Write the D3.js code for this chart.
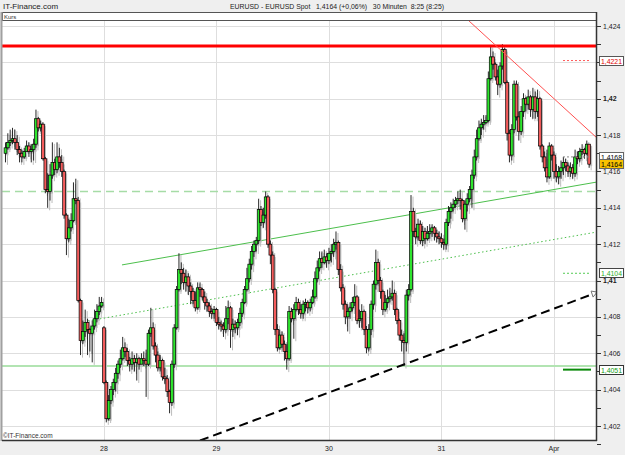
<!DOCTYPE html>
<html><head><meta charset="utf-8">
<script src="https://cdn.jsdelivr.net/npm/d3@7"></script>
<style>
html,body{margin:0;padding:0;background:#efefef;}
svg{display:block;font-family:"Liberation Sans",Arial,sans-serif;}
</style></head><body>
<svg id="chart" width="625" height="455"></svg>
<script>
// ---- data (30-minute candles, EUR/USD) ----
const open=[1.4170,1.4173,1.4176,1.4177,1.4178,1.4176,1.4172,1.4170,1.4168,1.4171,
1.4174,1.4171,1.4172,1.4175,1.4189,1.4184,1.4186,1.4167,1.4150,1.4149,
1.4158,1.4165,1.4161,1.4168,1.4165,1.4160,1.4136,1.4123,1.4129,1.4133,
1.4145,1.4144,1.4089,1.4067,1.4072,1.4077,1.4073,1.4071,1.4075,1.4079,
1.4083,1.4086,1.4074,1.4044,1.4024,1.4034,1.4040,1.4044,1.4049,1.4054,
1.4057,1.4063,1.4061,1.4056,1.4054,1.4057,1.4055,1.4057,1.4054,1.4057,
1.4056,1.4054,1.4071,1.4074,1.4064,1.4059,1.4052,1.4056,1.4047,1.4046,
1.4039,1.4033,1.4054,1.4074,1.4095,1.4106,1.4104,1.4099,1.4102,1.4097,
1.4094,1.4089,1.4085,1.4096,1.4095,1.4091,1.4088,1.4086,1.4083,1.4082,
1.4084,1.4077,1.4076,1.4075,1.4073,1.4079,1.4085,1.4073,1.4076,1.4074,
1.4077,1.4082,1.4088,1.4095,1.4101,1.4109,1.4116,1.4120,1.4122,1.4139,
1.4132,1.4136,1.4146,1.4120,1.4114,1.4095,1.4073,1.4063,1.4070,1.4065,
1.4061,1.4057,1.4083,1.4079,1.4084,1.4088,1.4084,1.4082,1.4087,1.4088,
1.4085,1.4088,1.4091,1.4101,1.4107,1.4112,1.4110,1.4113,1.4111,1.4115,
1.4116,1.4120,1.4121,1.4106,1.4096,1.4087,1.4080,1.4083,1.4085,1.4088,
1.4091,1.4078,1.4079,1.4083,1.4073,1.4063,1.4073,1.4087,1.4098,1.4110,
1.4100,1.4094,1.4084,1.4088,1.4090,1.4091,1.4093,1.4084,1.4078,1.4070,
1.4067,1.4066,1.4092,1.4095,1.4138,1.4127,1.4124,1.4131,1.4122,1.4127,
1.4123,1.4126,1.4127,1.4129,1.4126,1.4124,1.4123,1.4121,1.4120,1.4132,
1.4138,1.4140,1.4142,1.4144,1.4145,1.4144,1.4134,1.4142,1.4145,1.4150,
1.4158,1.4168,1.4178,1.4184,1.4186,1.4187,1.4188,1.4211,1.4223,1.4219,
1.4212,1.4208,1.4218,1.4227,1.4209,1.4181,1.4169,1.4183,1.4208,1.4190,
1.4182,1.4193,1.4200,1.4197,1.4201,1.4194,1.4201,1.4193,1.4200,1.4174,
1.4168,1.4162,1.4157,1.4174,1.4169,1.4160,1.4157,1.4160,1.4162,1.4165,
1.4163,1.4160,1.4162,1.4159,1.4168,1.4167,1.4171,1.4172,1.4170,1.4175];
const high=[1.4176,1.4181,1.4183,1.4184,1.4183,1.4180,1.4174,1.4172,1.4173,1.4177,
1.4176,1.4175,1.4178,1.4194,1.4190,1.4188,1.4187,1.4168,1.4159,1.4164,
1.4176,1.4167,1.4176,1.4173,1.4169,1.4161,1.4137,1.4134,1.4137,1.4154,
1.4156,1.4146,1.4090,1.4078,1.4084,1.4079,1.4074,1.4078,1.4084,1.4087,
1.4091,1.4091,1.4075,1.4045,1.4037,1.4042,1.4046,1.4052,1.4056,1.4062,
1.4069,1.4066,1.4063,1.4058,1.4061,1.4059,1.4060,1.4058,1.4060,1.4061,
1.4062,1.4073,1.4085,1.4077,1.4066,1.4061,1.4059,1.4057,1.4052,1.4048,
1.4040,1.4056,1.4076,1.4097,1.4115,1.4110,1.4107,1.4106,1.4104,1.4099,
1.4096,1.4094,1.4099,1.4099,1.4096,1.4094,1.4090,1.4088,1.4085,1.4086,
1.4085,1.4080,1.4078,1.4077,1.4086,1.4089,1.4086,1.4079,1.4078,1.4079,
1.4085,1.4090,1.4097,1.4107,1.4112,1.4119,1.4122,1.4124,1.4145,1.4141,
1.4140,1.4149,1.4147,1.4122,1.4116,1.4096,1.4076,1.4073,1.4072,1.4067,
1.4065,1.4086,1.4085,1.4087,1.4091,1.4090,1.4087,1.4089,1.4090,1.4089,
1.4090,1.4095,1.4105,1.4111,1.4116,1.4116,1.4117,1.4115,1.4118,1.4120,
1.4123,1.4127,1.4122,1.4109,1.4098,1.4089,1.4087,1.4088,1.4091,1.4098,
1.4092,1.4084,1.4087,1.4084,1.4075,1.4076,1.4089,1.4100,1.4117,1.4112,
1.4102,1.4095,1.4092,1.4095,1.4096,1.4100,1.4095,1.4085,1.4079,1.4073,
1.4071,1.4095,1.4098,1.4147,1.4140,1.4129,1.4134,1.4133,1.4130,1.4129,
1.4130,1.4131,1.4131,1.4130,1.4128,1.4127,1.4126,1.4123,1.4134,1.4141,
1.4143,1.4145,1.4146,1.4149,1.4150,1.4145,1.4144,1.4148,1.4152,1.4161,
1.4172,1.4183,1.4188,1.4189,1.4191,1.4191,1.4215,1.4229,1.4226,1.4220,
1.4216,1.4220,1.4230,1.4228,1.4210,1.4183,1.4186,1.4210,1.4210,1.4193,
1.4196,1.4203,1.4201,1.4205,1.4202,1.4206,1.4204,1.4205,1.4201,1.4175,
1.4171,1.4172,1.4176,1.4175,1.4171,1.4164,1.4163,1.4166,1.4168,1.4167,
1.4165,1.4165,1.4164,1.4172,1.4171,1.4173,1.4175,1.4173,1.4177,1.4175];
const low=[1.4165,1.4172,1.4174,1.4175,1.4172,1.4169,1.4165,1.4165,1.4167,1.4171,
1.4168,1.4165,1.4166,1.4173,1.4182,1.4182,1.4166,1.4148,1.4140,1.4144,
1.4156,1.4158,1.4159,1.4162,1.4157,1.4134,1.4114,1.4121,1.4127,1.4132,
1.4142,1.4088,1.4059,1.4065,1.4069,1.4059,1.4061,1.4055,1.4073,1.4077,
1.4081,1.4085,1.4043,1.4022,1.4023,1.4032,1.4037,1.4039,1.4046,1.4052,
1.4056,1.4058,1.4053,1.4050,1.4051,1.4050,1.4045,1.4051,1.4054,1.4053,
1.4036,1.4053,1.4069,1.4062,1.4055,1.4050,1.4050,1.4045,1.4043,1.4036,
1.4027,1.4031,1.4052,1.4073,1.4094,1.4098,1.4095,1.4094,1.4092,1.4087,
1.4087,1.4083,1.4084,1.4091,1.4089,1.4084,1.4083,1.4080,1.4079,1.4079,
1.4075,1.4073,1.4072,1.4069,1.4071,1.4076,1.4063,1.4069,1.4071,1.4070,
1.4075,1.4080,1.4087,1.4094,1.4099,1.4106,1.4113,1.4116,1.4120,1.4130,
1.4129,1.4134,1.4118,1.4109,1.4093,1.4070,1.4061,1.4062,1.4063,1.4056,
1.4051,1.4056,1.4077,1.4068,1.4083,1.4081,1.4079,1.4079,1.4083,1.4082,
1.4083,1.4087,1.4090,1.4099,1.4105,1.4107,1.4109,1.4107,1.4109,1.4110,
1.4113,1.4117,1.4103,1.4094,1.4084,1.4076,1.4072,1.4079,1.4083,1.4086,
1.4076,1.4074,1.4074,1.4070,1.4060,1.4061,1.4070,1.4084,1.4095,1.4098,
1.4090,1.4081,1.4083,1.4085,1.4088,1.4089,1.4081,1.4076,1.4067,1.4061,
1.4053,1.4061,1.4089,1.4094,1.4124,1.4120,1.4122,1.4120,1.4119,1.4120,
1.4122,1.4123,1.4124,1.4122,1.4121,1.4120,1.4118,1.4117,1.4117,1.4130,
1.4134,1.4138,1.4140,1.4142,1.4139,1.4132,1.4128,1.4138,1.4143,1.4140,
1.4156,1.4166,1.4177,1.4180,1.4183,1.4186,1.4187,1.4210,1.4216,1.4210,
1.4202,1.4206,1.4216,1.4208,1.4177,1.4165,1.4166,1.4181,1.4188,1.4177,
1.4180,1.4190,1.4193,1.4194,1.4190,1.4189,1.4189,1.4190,1.4172,1.4165,
1.4160,1.4154,1.4156,1.4166,1.4156,1.4154,1.4153,1.4156,1.4158,1.4160,
1.4157,1.4157,1.4156,1.4157,1.4164,1.4165,1.4169,1.4167,1.4169,1.4162];
const close=[1.4173,1.4176,1.4177,1.4178,1.4176,1.4172,1.4170,1.4168,1.4171,1.4174,
1.4171,1.4172,1.4175,1.4189,1.4184,1.4186,1.4167,1.4150,1.4149,1.4158,
1.4165,1.4161,1.4168,1.4165,1.4160,1.4136,1.4123,1.4129,1.4133,1.4145,
1.4144,1.4089,1.4067,1.4072,1.4077,1.4073,1.4071,1.4075,1.4079,1.4083,
1.4086,1.4088,1.4044,1.4024,1.4034,1.4040,1.4044,1.4049,1.4054,1.4057,
1.4063,1.4061,1.4056,1.4054,1.4057,1.4055,1.4057,1.4054,1.4057,1.4056,
1.4054,1.4071,1.4074,1.4064,1.4059,1.4052,1.4056,1.4047,1.4046,1.4039,
1.4033,1.4054,1.4074,1.4095,1.4106,1.4104,1.4099,1.4102,1.4097,1.4094,
1.4089,1.4085,1.4096,1.4095,1.4091,1.4088,1.4086,1.4083,1.4082,1.4084,
1.4077,1.4076,1.4075,1.4073,1.4079,1.4085,1.4073,1.4076,1.4074,1.4077,
1.4082,1.4088,1.4095,1.4101,1.4109,1.4116,1.4120,1.4122,1.4139,1.4132,
1.4136,1.4146,1.4120,1.4114,1.4095,1.4073,1.4063,1.4070,1.4065,1.4061,
1.4057,1.4083,1.4079,1.4084,1.4088,1.4084,1.4082,1.4087,1.4088,1.4085,
1.4088,1.4091,1.4101,1.4107,1.4112,1.4110,1.4113,1.4111,1.4115,1.4116,
1.4120,1.4121,1.4106,1.4096,1.4087,1.4080,1.4083,1.4085,1.4088,1.4091,
1.4078,1.4079,1.4083,1.4073,1.4063,1.4073,1.4087,1.4098,1.4110,1.4100,
1.4094,1.4084,1.4088,1.4090,1.4091,1.4093,1.4084,1.4078,1.4070,1.4067,
1.4066,1.4092,1.4095,1.4138,1.4127,1.4124,1.4131,1.4122,1.4127,1.4123,
1.4126,1.4127,1.4129,1.4126,1.4124,1.4123,1.4121,1.4120,1.4132,1.4138,
1.4140,1.4142,1.4144,1.4145,1.4144,1.4134,1.4142,1.4145,1.4150,1.4158,
1.4168,1.4178,1.4184,1.4186,1.4187,1.4188,1.4211,1.4223,1.4219,1.4212,
1.4208,1.4218,1.4227,1.4209,1.4181,1.4169,1.4183,1.4208,1.4190,1.4182,
1.4193,1.4200,1.4197,1.4201,1.4194,1.4201,1.4193,1.4200,1.4174,1.4168,
1.4162,1.4157,1.4174,1.4169,1.4160,1.4157,1.4160,1.4162,1.4165,1.4163,
1.4160,1.4162,1.4159,1.4168,1.4167,1.4171,1.4172,1.4170,1.4175,1.4164];

const dayTickIndex=[42,90,138,186,234];
const dayLabels=["28","29","30","31","Apr"];
const priceTicks=[1.402,1.404,1.406,1.408,1.41,1.412,1.414,1.416,1.418,1.42,1.422,1.424];
const boldTicks=[1.41,1.42];
const hiddenTicks=[1.422];
const minorTicks=[1.401,1.403,1.405,1.407,1.409,1.411,1.413,1.415,1.417,1.419,1.421,1.423];

const resistanceLevel=1.4229;
const dashedLevel=1.4149;
const supportLevel=1.4053;
const downTrend=[[197.3,1.42433],[252.35,1.41784]];
const channelUpper=[[49.7,1.41086],[252.35,1.41542]];
const channelDotted=[[35.2,1.40778],[252.35,1.41267]];
const blackTrend=[[83,1.4012],[249.4,1.4092]];

const markerValues=[1.4221,1.4168,1.4164,1.4104,1.4051];
const markerLabels=["1,4221","1,4168","1,4164","1,4104","1,4051"];
const titleLeft="IT-Finance.com";
const titleMain="EURUSD - EURUSD Spot   1,4164 (+0,06%)   30 Minuten  8:25 (8:25)";

// ---- layout ----
const L=2,R=597,T=21,B=440;
const svg=d3.select("#chart");
const x=d3.scaleLinear().domain([-1.49,252.35]).range([L,R]);
const y=d3.scaleLinear().domain([1.402,1.424]).range([426,26]);

svg.append("rect").attr("width",625).attr("height",455).attr("fill","#efefef");
svg.append("rect").attr("x",L).attr("y",T).attr("width",R-L).attr("height",B-T).attr("fill","#fff");
svg.append("defs").append("clipPath").attr("id","clip").append("rect")
  .attr("x",L).attr("y",T).attr("width",R-L).attr("height",B-T);

// header
svg.append("rect").attr("x",L+0.5).attr("y",12.5).attr("width",R-L-1).attr("height",8)
  .attr("fill","#fff").attr("stroke","#555").attr("stroke-width",1);
svg.append("text").attr("x",4).attr("y",19).attr("font-size",6).attr("fill","#333").text("Kurs");
svg.append("text").attr("x",3).attr("y",9).attr("font-size",8).attr("fill","#222").text(titleLeft);
svg.append("text").attr("x",337).attr("y",9).attr("font-size",8).attr("fill","#222")
  .attr("text-anchor","middle").attr("textLength",214).attr("lengthAdjust","spacingAndGlyphs")
  .style("white-space","pre").text(titleMain);

const g=svg.append("g").attr("clip-path","url(#clip)");
// grid
g.selectAll(".hg").data(priceTicks).enter().append("line")
  .attr("x1",L).attr("x2",R).attr("y1",d=>Math.round(y(d))+0.5).attr("y2",d=>Math.round(y(d))+0.5)
  .attr("stroke","#dedede").attr("stroke-width",1);
g.selectAll(".vg").data(dayTickIndex).enter().append("line")
  .attr("y1",T).attr("y2",B).attr("x1",d=>Math.round(x(d))+0.5).attr("x2",d=>Math.round(x(d))+0.5)
  .attr("stroke","#dedede").attr("stroke-width",1);

// horizontal levels
g.append("line").attr("x1",L).attr("x2",R).attr("y1",y(dashedLevel)).attr("y2",y(dashedLevel))
  .attr("stroke","#a6dca6").attr("stroke-width",1.6).attr("stroke-dasharray","8,5");
g.append("line").attr("x1",L).attr("x2",R).attr("y1",y(supportLevel)).attr("y2",y(supportLevel))
  .attr("stroke","#b2e4b2").attr("stroke-width",2);

const line=d3.line().x(d=>x(d[0])).y(d=>y(d[1]));
g.append("path").attr("d",line(channelUpper)).attr("fill","none").attr("stroke","#4cbf4c").attr("stroke-width",1);
g.append("path").attr("d",line(channelDotted)).attr("fill","none").attr("stroke","#4cbf4c").attr("stroke-width",1).attr("stroke-dasharray","1.5,2.5");
g.append("path").attr("d",line(blackTrend)).attr("fill","none").attr("stroke","#000").attr("stroke-width",2).attr("stroke-dasharray","9,5");

// candles
const idx=d3.range(close.length);
const shadow=g.append("g").attr("fill","#bcbcbc").attr("stroke","#bcbcbc");
idx.forEach(i=>{
  const cx=x(i);
  shadow.append("line").attr("x1",cx+2).attr("x2",cx+2).attr("y1",y(high[i])+1.5).attr("y2",y(low[i])+2.5).attr("stroke-width",1);
  const top=y(Math.max(open[i],close[i])), bot=y(Math.min(open[i],close[i]));
  shadow.append("rect").attr("x",cx).attr("y",top+2).attr("width",3).attr("height",Math.max(1,bot-top)).attr("stroke","none");
});
const cg=g.append("g");
idx.forEach(i=>{
  const cx=x(i);
  const up=close[i]>=open[i];
  cg.append("line").attr("x1",cx).attr("x2",cx).attr("y1",y(high[i])).attr("y2",y(low[i]))
    .attr("stroke","#111").attr("stroke-width",0.9);
  const top=y(Math.max(open[i],close[i])), bot=y(Math.min(open[i],close[i]));
  cg.append("rect").attr("x",cx-1.4).attr("y",top).attr("width",2.8).attr("height",Math.max(0.8,bot-top))
    .attr("fill",up?"#2ee52e":"#f45c5c").attr("stroke","#000").attr("stroke-width",0.7);
});

// red lines on top
g.append("line").attr("x1",L).attr("x2",R).attr("y1",y(resistanceLevel)).attr("y2",y(resistanceLevel))
  .attr("stroke","#ff0000").attr("stroke-width",3);
g.append("path").attr("d",line(downTrend)).attr("fill","none").attr("stroke","#ff5050").attr("stroke-width",1);

// arrow head at end of black trend
const endP=blackTrend[1];
g.append("path").attr("d",`M${x(endP[0])+1},${y(endP[1])-4} l6,1 l-4,5 z`)
  .attr("fill","#fff").attr("stroke","#777").attr("stroke-width",1);

// marker short lines
const mStyle=[
 {stroke:"#ff5a5a",dash:"2,2",w:1},
 {stroke:"#888",dash:"2,2",w:1},
 null,
 {stroke:"#55cc55",dash:"2,2",w:1},
 {stroke:"#0a8a0a",dash:null,w:2}];
markerValues.forEach((v,k)=>{
  const s=mStyle[k]; if(!s) return;
  const ln=g.append("line").attr("x1",563).attr("x2",591).attr("y1",y(v)).attr("y2",y(v))
    .attr("stroke",s.stroke).attr("stroke-width",s.w);
  if(s.dash) ln.attr("stroke-dasharray",s.dash);
});

// frame
svg.append("line").attr("x1",1.5).attr("x2",1.5).attr("y1",12).attr("y2",B+1).attr("stroke","#a0a0a0").attr("stroke-width",2);
svg.append("line").attr("x1",R-0.5).attr("x2",R-0.5).attr("y1",12).attr("y2",B+1).attr("stroke","#333").attr("stroke-width",1.5);
svg.append("line").attr("x1",L).attr("x2",R).attr("y1",B+0.5).attr("y2",B+0.5).attr("stroke","#333").attr("stroke-width",1.5);

// right axis
const fmt=v=>(+v.toFixed(3)).toString().replace(".",",");
svg.selectAll(".mt").data(minorTicks.concat(priceTicks)).enter().append("line")
  .attr("x1",R).attr("x2",R+4).attr("y1",d=>Math.round(y(d))+0.5).attr("y2",d=>Math.round(y(d))+0.5)
  .attr("stroke","#333").attr("stroke-width",1);
svg.selectAll(".yl").data(priceTicks.filter(d=>!hiddenTicks.includes(d))).enter().append("text")
  .attr("x",R+6).attr("y",d=>y(d)+2.5).attr("font-size",7).attr("fill","#222")
  .attr("font-weight",d=>boldTicks.includes(d)?"bold":"normal").text(fmt);

// marker boxes
const boxFill=["#fff","#fff","#f7c200","#fff","#fff"];
const boxStroke=["#555","#666","#666","#444","#333"];
const boxText=["#e00000","#000","#000","#2bb02b","#129a12"];
markerValues.forEach((v,k)=>{
  const yy=Math.round(y(v));
  svg.append("rect").attr("x",599.5).attr("y",yy-4.5).attr("width",24).attr("height",9)
    .attr("fill",boxFill[k]).attr("stroke",boxStroke[k]).attr("stroke-width",1);
  svg.append("text").attr("x",601).attr("y",yy+2.5).attr("font-size",6.8).attr("fill",boxText[k])
    .attr("textLength",21).attr("lengthAdjust","spacingAndGlyphs").text(markerLabels[k]);
});

// bottom axis
svg.selectAll(".xl").data(dayTickIndex).enter().append("text")
  .attr("x",d=>x(d)).attr("y",451).attr("font-size",7).attr("fill","#222").attr("text-anchor","middle")
  .text((d,k)=>dayLabels[k]);
svg.append("text").attr("x",3).attr("y",438).attr("font-size",6.5).attr("fill","#333").text("\u00A9IT-Finance.com");
</script>
</body></html>
